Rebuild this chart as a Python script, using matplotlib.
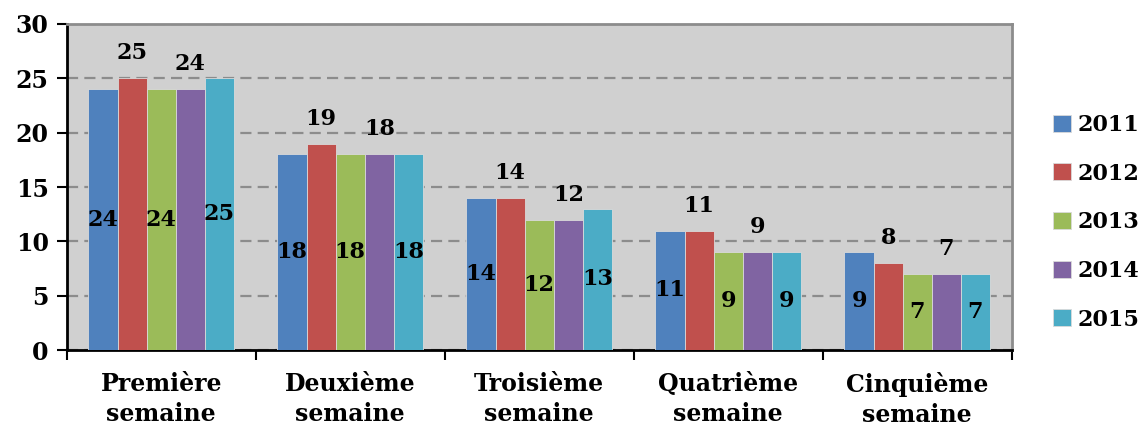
import numpy as np
import matplotlib
matplotlib.use("Agg")
import matplotlib.pyplot as plt

# data
categories = ["Première\nsemaine", "Deuxième\nsemaine", "Troisième\nsemaine",
              "Quatrième\nsemaine", "Cinquième\nsemaine"]
years = ["2011", "2012", "2013", "2014", "2015"]
v2011 = [24, 18, 14, 11, 9]
v2012 = [25, 19, 14, 11, 8]
v2013 = [24, 18, 12, 9, 7]
v2014 = [24, 18, 12, 9, 7]
v2015 = [25, 18, 13, 9, 7]
yticks = [0, 5, 10, 15, 20, 25, 30]

series = [v2011, v2012, v2013, v2014, v2015]
colors = ["#4F81BD", "#C0504D", "#9BBB59", "#8064A2", "#4BACC6"]

plt.rcParams['font.family'] = ['DejaVu Serif']
plt.rcParams['font.weight'] = 'bold'

fig = plt.figure(figsize=(11.4, 4.26), dpi=100)
ax = fig.add_axes([0.0585, 0.178, 0.829, 0.766])
ax.set_facecolor("#D0D0D0")

x = np.arange(len(categories))
w = 0.154
for i, (vals, c) in enumerate(zip(series, colors)):
    bars = ax.bar(x + (i - 2) * w, vals, w, color=c, label=years[i], zorder=3,
                  edgecolor='#DADADA', linewidth=0.6)
    if i in (1, 3):
        ax.bar_label(bars, padding=10, fontsize=16, fontweight='bold')
    else:
        ax.bar_label(bars, label_type='center', fontsize=16, fontweight='bold')

ax.set_xlim(-0.5, 4.5)
ax.set_ylim(0, 30)
ax.set_yticks(yticks)
ax.yaxis.grid(True, linestyle=(0, (5, 2.8)), color="#8C8C8C", linewidth=1.6, zorder=0)
ax.tick_params(axis='y', labelsize=17, length=7, width=1.5, direction='out', pad=6)

# ticks at category boundaries, labels at centers
ax.set_xticks(np.arange(-0.5, 5, 1))
ax.set_xticklabels([])
ax.set_xticks(x, minor=True)
ax.set_xticklabels(categories, minor=True, fontsize=17, fontweight='bold', linespacing=1.3)
ax.tick_params(axis='x', which='major', length=7, width=1.5, direction='out')
ax.tick_params(axis='x', which='minor', length=0, pad=16)

for s in ['left', 'bottom']:
    ax.spines[s].set_linewidth(2)
    ax.spines[s].set_color('black')
for s in ['top', 'right']:
    ax.spines[s].set_linewidth(2)
    ax.spines[s].set_color('#8C8C8C')

leg = fig.legend(loc='center left', bbox_to_anchor=(0.924, 0.478), frameon=False,
                 fontsize=16, handlelength=0.8, handleheight=0.8, handletextpad=0.3,
                 labelspacing=1.2, borderaxespad=0, borderpad=0)
for t in leg.get_texts():
    t.set_fontweight('bold')

fig.savefig("out.png", dpi=100)
